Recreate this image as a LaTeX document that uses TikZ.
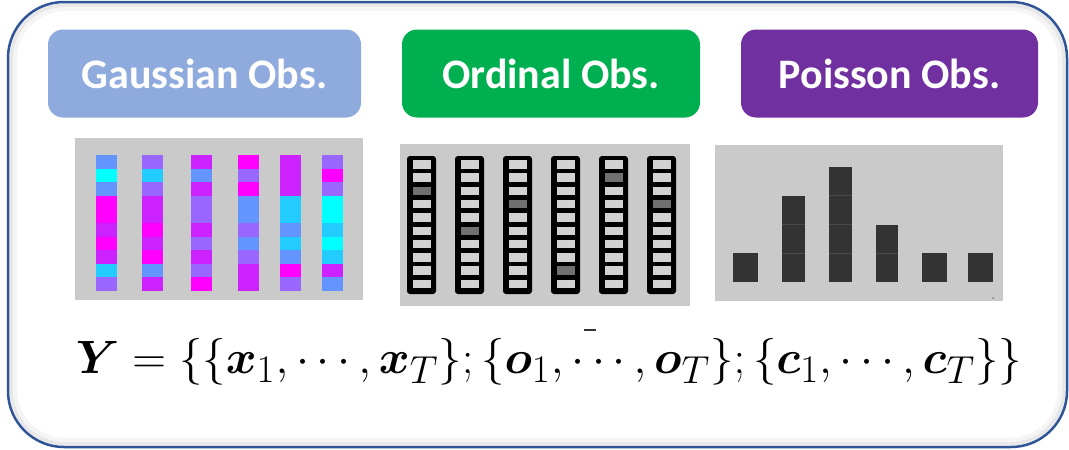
\documentclass[tikz,border=0pt]{standalone}
\usepackage{bm}
\usepackage{fontspec}
\newfontfamily\labfont{Carlito}
\definecolor{frame}{HTML}{2F5597}
\definecolor{gauss}{HTML}{8FAADC}
\definecolor{ordin}{HTML}{00B050}
\definecolor{poiss}{HTML}{7030A0}
\definecolor{panel}{HTML}{CACACA}
\definecolor{gB}{HTML}{6495FF}
\definecolor{gC}{HTML}{00FFFF}
\definecolor{gL}{HTML}{22CCFF}
\definecolor{gM}{HTML}{FF00FF}
\definecolor{gP}{HTML}{CC22FF}
\definecolor{gV}{HTML}{9966FF}
\definecolor{olight}{HTML}{D2D2D2}
\definecolor{odark}{HTML}{707070}
\definecolor{pbar}{HTML}{333333}
\definecolor{psep}{HTML}{4A4A4A}
\tikzset{
  labbox/.style={rounded corners=15pt, minimum height=88pt, inner sep=0pt,
    text=white, font=\labfont\bfseries\fontsize{42}{48}\selectfont},
}
\begin{document}
\begin{tikzpicture}[x=1pt,y=-1pt]
\useasboundingbox (0,0) rectangle (1069,450);
\fill[white] (0,0) rectangle (1069,450);
% soft inner shadow of frame
\draw[black!9, line width=4pt, rounded corners=53pt] (11.5,5.5) rectangle (1063.5,443.5);
\draw[black!4, line width=4pt, rounded corners=50pt] (15,9) rectangle (1060,440);
\draw[frame, line width=2.5pt, rounded corners=56pt] (8,2) rectangle (1067,447);
% label boxes
\node[labbox, fill=gauss, minimum width=313pt] (gauss) at (204.5,73.5) {Gaussian Obs.};
\node[labbox, fill=ordin, minimum width=298pt] (ordin) at (551,73.5) {Ordinal Obs.};
\node[labbox, fill=poiss, minimum width=297pt] (poiss) at (889.5,73.5) {Poisson Obs.};
% Gaussian panel
\fill[panel] (75,138) rectangle (363,300);
\foreach \cx/\clist in {
  96/{gB,gC,gB,gM,gM,gP,gM,gP,gL,gV},
  142/{gV,gL,gV,gP,gP,gM,gP,gM,gB,gP},
  191/{gP,gB,gP,gV,gV,gP,gV,gP,gV,gM},
  238/{gM,gV,gM,gB,gB,gV,gB,gV,gP,gP},
  280/{gP,gP,gP,gL,gL,gB,gL,gB,gM,gV},
  322/{gV,gM,gV,gC,gC,gL,gC,gL,gP,gB}} {
  \foreach \c [count=\i from 0] in \clist {
    \fill[\c] (\cx,155+13.6*\i) rectangle ++(21,13.7);
  }
}
% Ordinal panel
\fill[panel] (400,144) rectangle (690,306);
\foreach \ox/\dk in {407/2,455/5,503/3,551/8,599/1,647/3} {
  \fill[black, rounded corners=3pt] (\ox,156) rectangle ++(29,138);
  \foreach \k in {0,...,9} {
    \fill[olight] (\ox+5.5,160+13.3*\k) rectangle ++(18,8.5);
  }
  \fill[odark] (\ox+5.5,160+13.3*\dk) rectangle ++(18,8.5);
}
% Poisson panel
\fill[panel] (715,145) rectangle (1003,301);
\foreach \bx/\bw/\h in {733/25/1,782/23/3,829/23/4,876/22/2,922/25/1,968/25/1} {
  \fill[pbar] (\bx,282) rectangle ++(\bw,-28.7*\h);
}
\foreach \bx/\bw/\k in {782/23/1,782/23/2,829/23/1,829/23/2,829/23/3,876/22/1} {
  \draw[psep, line width=1pt] (\bx,282-28.7*\k) -- ++(\bw,0);
}
\fill[gray] (993,298) circle (1pt);
% formula
\draw[black!80, line width=2pt] (584,330) -- (596,330);
\node[inner sep=0pt, anchor=base, font=\Huge, scale=1.88] (formula) at (549,373)
  {$\bm{Y}=\{\{\bm{x}_1,\cdots,\bm{x}_T\};\{\bm{o}_1,\cdots,\bm{o}_T\};\{\bm{c}_1,\cdots,\bm{c}_T\}\}$};
\end{tikzpicture}
\end{document}
